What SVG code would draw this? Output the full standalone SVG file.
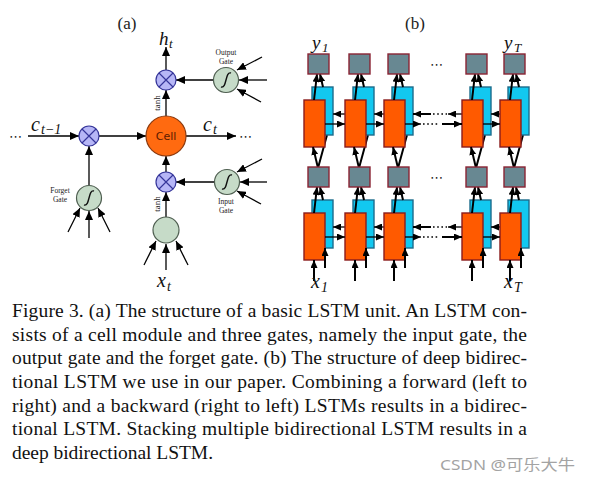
<svg xmlns="http://www.w3.org/2000/svg" width="591" height="482" viewBox="0 0 591 482">
<style>
.ln{stroke:#000;stroke-width:1.3;fill:none}
.tk{stroke:#000;stroke-width:2;fill:none}
.dot{stroke:#000;stroke-width:1.6;fill:none;stroke-dasharray:1.6 2.6}
.mul{fill:#b6b6f6;stroke:#35359a;stroke-width:1.2}
.mulx{stroke:#35359a;stroke-width:1.2}
.gate{fill:#c6dbc8;stroke:#4e5e50;stroke-width:1.2}
.sig{fill:none;stroke:#111;stroke-width:1.4}
.cell{fill:#ff6a10;stroke:#8a3a10;stroke-width:1.2}
.gr{fill:#688892;stroke:#8a2434;stroke-width:1.4}
.bl{fill:#12c8f0;stroke:#1c6c8c;stroke-width:1.4}
.or{fill:#ff5a00;stroke:#8a1c1c;stroke-width:1.4}
.m{font-family:"Liberation Serif",serif;font-style:italic;fill:#111}
.sm{font-family:"Liberation Serif",serif;font-size:7.5px;fill:#222;text-anchor:middle}
.cap{font-family:"Liberation Serif",serif;font-size:19.5px;fill:#111}
.el{font-family:"DejaVu Sans",sans-serif;font-size:13px;fill:#222}
</style>
<defs>
<marker id="ah" markerUnits="userSpaceOnUse" markerWidth="10" markerHeight="8" refX="9" refY="4" orient="auto">
<path d="M0,0 L9,4 L0,8 z" fill="#000"/>
</marker>
<marker id="ahs" markerUnits="userSpaceOnUse" markerWidth="9" markerHeight="7" refX="8" refY="3.5" orient="auto">
<path d="M0,0 L8,3.5 L0,7 z" fill="#000"/>
</marker>
</defs>
<rect width="591" height="482" fill="#fff"/>

<!-- (a) -->
<text x="127" y="29" font-family="Liberation Serif,serif" font-size="17" text-anchor="middle" fill="#222">(a)</text>
<g id="connectors-a">
<line class="ln" x1="28" y1="136" x2="79" y2="136" marker-end="url(#ah)"/>
<line class="ln" x1="99" y1="136" x2="146" y2="136" marker-end="url(#ah)"/>
<line class="ln" x1="186" y1="136" x2="236" y2="136" marker-end="url(#ah)"/>
<line class="ln" x1="166" y1="116" x2="166" y2="90" marker-end="url(#ah)"/>
<line class="ln" x1="166" y1="70" x2="166" y2="47" marker-end="url(#ah)"/>
<line class="ln" x1="213.5" y1="80" x2="176" y2="80" marker-end="url(#ah)"/>
<line class="ln" x1="214.5" y1="182" x2="176" y2="182" marker-end="url(#ah)"/>
<line class="ln" x1="166" y1="172" x2="166" y2="156" marker-end="url(#ah)"/>
<line class="ln" x1="166" y1="217" x2="166" y2="192" marker-end="url(#ah)"/>
<line class="ln" x1="89" y1="185.5" x2="89" y2="146" marker-end="url(#ah)"/>
<line class="ln" x1="262" y1="57" x2="237" y2="70" marker-end="url(#ah)"/>
<line class="ln" x1="267" y1="80" x2="239" y2="80" marker-end="url(#ah)"/>
<line class="ln" x1="261" y1="102" x2="237" y2="89" marker-end="url(#ah)"/>
<line class="ln" x1="262" y1="159" x2="237" y2="172" marker-end="url(#ah)"/>
<line class="ln" x1="267" y1="182" x2="240" y2="182" marker-end="url(#ah)"/>
<line class="ln" x1="261" y1="204" x2="237" y2="191" marker-end="url(#ah)"/>
<line class="ln" x1="68" y1="232" x2="80" y2="208" marker-end="url(#ah)"/>
<line class="ln" x1="89" y1="238" x2="89" y2="211" marker-end="url(#ah)"/>
<line class="ln" x1="110" y1="232" x2="98" y2="208" marker-end="url(#ah)"/>
<line class="ln" x1="144" y1="265" x2="156" y2="241" marker-end="url(#ah)"/>
<line class="ln" x1="166" y1="270" x2="166" y2="244" marker-end="url(#ah)"/>
<line class="ln" x1="188" y1="265" x2="176" y2="241" marker-end="url(#ah)"/>
</g>
<g id="mul-forget">
<circle class="mul" cx="89" cy="136" r="10"/>
<path class="mulx" d="M82,129 L96,143 M96,129 L82,143"/>
</g>
<g id="mul-output">
<circle class="mul" cx="166" cy="80" r="10"/>
<path class="mulx" d="M159,73 L173,87 M173,73 L159,87"/>
</g>
<g id="mul-input">
<circle class="mul" cx="166" cy="182" r="10"/>
<path class="mulx" d="M159,175 L173,189 M173,175 L159,189"/>
</g>
<g id="cell">
<circle class="cell" cx="166" cy="136" r="20"/>
<text x="166" y="140" font-family="DejaVu Sans,sans-serif" font-size="11" text-anchor="middle" fill="#5a1a00">Cell</text>
</g>
<g id="output-gate">
<circle class="gate" cx="226" cy="80" r="12.5"/>
<path class="sig" d="M221,87 C227,89 225,71 231,73"/>
<text class="sm" x="226" y="55">Output</text>
<text class="sm" x="226" y="64">Gate</text>
</g>
<g id="input-gate">
<circle class="gate" cx="227" cy="182" r="12.5"/>
<path class="sig" d="M222,189 C228,191 226,173 232,175"/>
<text class="sm" x="226" y="204">Input</text>
<text class="sm" x="226" y="213">Gate</text>
</g>
<g id="forget-gate">
<circle class="gate" cx="89" cy="198" r="12.5"/>
<path class="sig" d="M84,205 C90,207 88,189 94,191"/>
<text class="sm" x="60" y="193">Forget</text>
<text class="sm" x="60" y="202">Gate</text>
</g>
<g id="input-node">
<circle class="gate" cx="166" cy="230" r="13"/>
</g>
<g id="labels-a">
<text x="0" y="0" font-family="Liberation Serif,serif" font-size="9" text-anchor="middle" fill="#222" transform="translate(160,103) rotate(-90)">tanh</text>
<text x="0" y="0" font-family="Liberation Serif,serif" font-size="9" text-anchor="middle" fill="#222" transform="translate(160,204) rotate(-90)">tanh</text>
<text class="m" x="159" y="45" font-size="19">h</text><text class="m" x="169" y="48" font-size="13">t</text>
<text class="m" x="31" y="131" font-size="20">c</text><text class="m" x="41" y="134" font-size="14">t−1</text>
<text class="m" x="203" y="131" font-size="20">c</text><text class="m" x="213" y="134" font-size="14">t</text>
<text class="m" x="157" y="287" font-size="20">x</text><text class="m" x="167" y="291" font-size="14">t</text>
<text class="el" x="9" y="141">⋯</text>
<text class="el" x="239" y="141">⋯</text>
</g>

<!-- (b) -->
<text x="415" y="29" font-family="Liberation Serif,serif" font-size="17" text-anchor="middle" fill="#222">(b)</text>
<g id="hidden-connectors-b">
<line class="tk" x1="318" y1="168" x2="327" y2="135"/>
<line class="tk" x1="359" y1="168" x2="368" y2="135"/>
<line class="tk" x1="398" y1="168" x2="407" y2="135"/>
<line class="tk" x1="476" y1="168" x2="485" y2="135"/>
<line class="tk" x1="514" y1="168" x2="523" y2="135"/>
</g>
<g id="blue-cells">
<rect class="bl" x="312" y="87" width="21" height="48"/>
<rect class="bl" x="353" y="87" width="21" height="48"/>
<rect class="bl" x="392" y="87" width="21" height="48"/>
<rect class="bl" x="470" y="87" width="21" height="48"/>
<rect class="bl" x="508" y="87" width="21" height="48"/>
<rect class="bl" x="312" y="200" width="21" height="48"/>
<rect class="bl" x="353" y="200" width="21" height="48"/>
<rect class="bl" x="392" y="200" width="21" height="48"/>
<rect class="bl" x="470" y="200" width="21" height="48"/>
<rect class="bl" x="508" y="200" width="21" height="48"/>
</g>
<g id="backward-connectors">
<line class="ln" x1="345" y1="114" x2="333" y2="114" marker-end="url(#ahs)"/>
<line class="ln" x1="384" y1="114" x2="374" y2="114" marker-end="url(#ahs)"/>
<line class="tk" x1="431" y1="114" x2="413" y2="114" marker-end="url(#ahs)"/>
<line class="dot" x1="433" y1="114" x2="447" y2="114"/>
<line class="ln" x1="462" y1="114" x2="448" y2="114" marker-end="url(#ahs)"/>
<line class="ln" x1="500" y1="114" x2="491" y2="114" marker-end="url(#ahs)"/>
<line class="ln" x1="345" y1="227" x2="333" y2="227" marker-end="url(#ahs)"/>
<line class="ln" x1="384" y1="227" x2="374" y2="227" marker-end="url(#ahs)"/>
<line class="tk" x1="431" y1="227" x2="413" y2="227" marker-end="url(#ahs)"/>
<line class="dot" x1="433" y1="227" x2="447" y2="227"/>
<line class="ln" x1="462" y1="227" x2="448" y2="227" marker-end="url(#ahs)"/>
<line class="ln" x1="500" y1="227" x2="491" y2="227" marker-end="url(#ahs)"/>
</g>
<g id="orange-cells">
<rect class="or" x="304" y="100" width="21" height="47"/>
<rect class="or" x="345" y="100" width="21" height="47"/>
<rect class="or" x="384" y="100" width="21" height="47"/>
<rect class="or" x="462" y="100" width="21" height="47"/>
<rect class="or" x="500" y="100" width="21" height="47"/>
<rect class="or" x="304" y="213" width="21" height="47"/>
<rect class="or" x="345" y="213" width="21" height="47"/>
<rect class="or" x="384" y="213" width="21" height="47"/>
<rect class="or" x="462" y="213" width="21" height="47"/>
<rect class="or" x="500" y="213" width="21" height="47"/>
</g>
<g id="connectors-b">
<line class="ln" x1="325" y1="124" x2="345" y2="124" marker-end="url(#ahs)"/>
<line class="ln" x1="366" y1="124" x2="384" y2="124" marker-end="url(#ahs)"/>
<line class="ln" x1="405" y1="124" x2="421" y2="124" marker-end="url(#ahs)"/>
<line class="dot" x1="423" y1="124" x2="439" y2="124"/>
<line class="tk" x1="442" y1="124" x2="462" y2="124" marker-end="url(#ahs)"/>
<line class="ln" x1="483" y1="124" x2="500" y2="124" marker-end="url(#ahs)"/>
<line class="ln" x1="325" y1="237" x2="345" y2="237" marker-end="url(#ahs)"/>
<line class="ln" x1="366" y1="237" x2="384" y2="237" marker-end="url(#ahs)"/>
<line class="ln" x1="405" y1="237" x2="421" y2="237" marker-end="url(#ahs)"/>
<line class="dot" x1="423" y1="237" x2="439" y2="237"/>
<line class="tk" x1="442" y1="237" x2="462" y2="237" marker-end="url(#ahs)"/>
<line class="ln" x1="483" y1="237" x2="500" y2="237" marker-end="url(#ahs)"/>

<line class="tk" x1="314" y1="100" x2="317" y2="74" marker-end="url(#ahs)"/>
<line class="tk" x1="323" y1="87" x2="320" y2="74" marker-end="url(#ahs)"/>
<line class="tk" x1="355" y1="100" x2="358" y2="74" marker-end="url(#ahs)"/>
<line class="tk" x1="364" y1="87" x2="361" y2="74" marker-end="url(#ahs)"/>
<line class="tk" x1="394" y1="100" x2="397" y2="74" marker-end="url(#ahs)"/>
<line class="tk" x1="403" y1="87" x2="400" y2="74" marker-end="url(#ahs)"/>
<line class="tk" x1="472" y1="100" x2="475" y2="74" marker-end="url(#ahs)"/>
<line class="tk" x1="481" y1="87" x2="478" y2="74" marker-end="url(#ahs)"/>
<line class="tk" x1="510" y1="100" x2="513" y2="74" marker-end="url(#ahs)"/>
<line class="tk" x1="519" y1="87" x2="516" y2="74" marker-end="url(#ahs)"/>

<line class="tk" x1="314" y1="213" x2="317" y2="187" marker-end="url(#ahs)"/>
<line class="tk" x1="323" y1="200" x2="320" y2="187" marker-end="url(#ahs)"/>
<line class="tk" x1="355" y1="213" x2="358" y2="187" marker-end="url(#ahs)"/>
<line class="tk" x1="364" y1="200" x2="361" y2="187" marker-end="url(#ahs)"/>
<line class="tk" x1="394" y1="213" x2="397" y2="187" marker-end="url(#ahs)"/>
<line class="tk" x1="403" y1="200" x2="400" y2="187" marker-end="url(#ahs)"/>
<line class="tk" x1="472" y1="213" x2="475" y2="187" marker-end="url(#ahs)"/>
<line class="tk" x1="481" y1="200" x2="478" y2="187" marker-end="url(#ahs)"/>
<line class="tk" x1="510" y1="213" x2="513" y2="187" marker-end="url(#ahs)"/>
<line class="tk" x1="519" y1="200" x2="516" y2="187" marker-end="url(#ahs)"/>

<line class="tk" x1="318" y1="168" x2="313" y2="147" marker-end="url(#ahs)"/>
<line class="tk" x1="359" y1="168" x2="354" y2="147" marker-end="url(#ahs)"/>
<line class="tk" x1="398" y1="168" x2="393" y2="147" marker-end="url(#ahs)"/>
<line class="tk" x1="476" y1="168" x2="471" y2="147" marker-end="url(#ahs)"/>
<line class="tk" x1="514" y1="168" x2="509" y2="147" marker-end="url(#ahs)"/>

<line class="tk" x1="314" y1="281" x2="314" y2="260" marker-end="url(#ahs)"/>
<line class="tk" x1="325" y1="268" x2="325" y2="248" marker-end="url(#ahs)"/>
<line class="tk" x1="355" y1="281" x2="355" y2="260" marker-end="url(#ahs)"/>
<line class="tk" x1="366" y1="268" x2="366" y2="248" marker-end="url(#ahs)"/>
<line class="tk" x1="394" y1="281" x2="394" y2="260" marker-end="url(#ahs)"/>
<line class="tk" x1="405" y1="268" x2="405" y2="248" marker-end="url(#ahs)"/>
<line class="tk" x1="472" y1="281" x2="472" y2="260" marker-end="url(#ahs)"/>
<line class="tk" x1="483" y1="268" x2="483" y2="248" marker-end="url(#ahs)"/>
<line class="tk" x1="510" y1="281" x2="510" y2="260" marker-end="url(#ahs)"/>
<line class="tk" x1="521" y1="268" x2="521" y2="248" marker-end="url(#ahs)"/>
</g>
<g id="gray-cells">
<rect class="gr" x="308" y="54" width="21" height="20"/>
<rect class="gr" x="349" y="54" width="21" height="20"/>
<rect class="gr" x="388" y="54" width="21" height="20"/>
<rect class="gr" x="466" y="54" width="21" height="20"/>
<rect class="gr" x="504" y="54" width="21" height="20"/>
<rect class="gr" x="308" y="167" width="21" height="20"/>
<rect class="gr" x="349" y="167" width="21" height="20"/>
<rect class="gr" x="388" y="167" width="21" height="20"/>
<rect class="gr" x="466" y="167" width="21" height="20"/>
<rect class="gr" x="504" y="167" width="21" height="20"/>
</g>
<g id="labels-b">
<text class="m" x="312" y="49" font-size="19">y</text><text class="m" x="322" y="52" font-size="13">1</text>
<text class="m" x="504" y="49" font-size="19">y</text><text class="m" x="514" y="52" font-size="13">T</text>
<text class="m" x="311" y="288" font-size="20">x</text><text class="m" x="321" y="292" font-size="14">1</text>
<text class="m" x="504" y="288" font-size="20">x</text><text class="m" x="514" y="292" font-size="14">T</text>
<text class="el" x="430" y="69">⋯</text>
<text class="el" x="430" y="182">⋯</text>
</g>

<g id="caption">
<text class="cap" x="12" y="317" textLength="515" lengthAdjust="spacing">Figure 3. (a) The structure of a basic LSTM unit.  An LSTM con-</text>
<text class="cap" x="12" y="341" textLength="515" lengthAdjust="spacing">sists of a cell module and three gates, namely the input gate, the</text>
<text class="cap" x="12" y="364" textLength="515" lengthAdjust="spacing">output gate and the forget gate.  (b) The structure of deep bidirec-</text>
<text class="cap" x="12" y="388" textLength="515" lengthAdjust="spacing">tional LSTM we use in our paper.  Combining a forward (left to</text>
<text class="cap" x="12" y="412" textLength="515" lengthAdjust="spacing">right) and a backward (right to left) LSTMs results in a bidirec-</text>
<text class="cap" x="12" y="435" textLength="515" lengthAdjust="spacing">tional LSTM. Stacking multiple bidirectional LSTM results in a</text>
<text class="cap" x="12" y="459" textLength="201" lengthAdjust="spacing">deep bidirectional LSTM.</text>
</g>
<text x="440" y="470" font-family="Noto Sans,'Noto Sans CJK SC',sans-serif" font-size="15" fill="#a3a3a3" textLength="135" lengthAdjust="spacingAndGlyphs">CSDN @可乐大牛</text>
</svg>
